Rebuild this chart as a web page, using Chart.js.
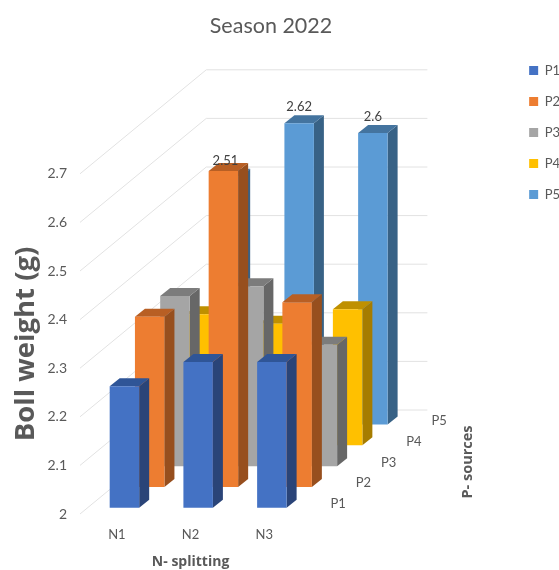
<!DOCTYPE html>
<html>
<head>
<meta charset="utf-8">
<title>Season 2022</title>
<script src="https://cdn.jsdelivr.net/npm/chart.js@4"></script>
<style>
    html, body { margin: 0; background: #fff; }
    canvas { display: block; }
</style>
</head>
<body>
<canvas id="myChart" width="559" height="570"></canvas>
<script>
const categories = ['N1', 'N2', 'N3'];
const seriesNames = ['P1', 'P2', 'P3', 'P4', 'P5'];

const p1Values = [2.25, 2.30, 2.30];
const p2Values = [2.35, 2.65, 2.38];
const p3Values = [2.35, 2.37, 2.25];
const p4Values = [2.27, 2.25, 2.28];
const p5Values = [2.51, 2.62, 2.6];

const frontColors = ['#4472c4', '#ed7d31', '#a5a5a5', '#ffc000', '#5b9bd5'];
const topColors = ['#2f5597', '#b85f24', '#7c7c7c', '#bf9000', '#44749f'];
const sideColors = ['#2a4478', '#974f1e', '#676767', '#a67c00', '#386286'];

const axisMin = 2;
const axisMax = 2.7;

const textColor = '#595959';
const fontFamily = 'Lato, "Open Sans", sans-serif';
const boldFamily = '"Open Sans", Lato, sans-serif';

// fake 3D: every series sits one slot further back
const slotX = 25.25;
const slotY = -20.8;
const barDepthX = 10;
const barDepthY = -8;

function seriesOffset(index) {
    return {
        x: (index + 0.3) * slotX,
        y: (index + 0.3) * slotY
    };
}

const depth3d = {
    id: 'depth3d',

    afterLayout(chart) {
        // title and legend do not follow the plot area in this layout
        chart.titleBlock.right -= 27;
        chart.legend.top += 46;
        chart.legend.left += 11;
    },

    // walls: slanted side gridline, then straight along the back
    beforeDatasetsDraw(chart) {
        const ctx = chart.ctx;
        const x = chart.scales.x;
        const y = chart.scales.y;
        const backX = seriesNames.length * slotX;
        const backY = seriesNames.length * slotY;

        ctx.save();
        ctx.strokeStyle = '#e2e2e2';
        ctx.lineWidth = 1;
        y.ticks.forEach((tick, i) => {
            const py = y.getPixelForTick(i);
            ctx.beginPath();
            ctx.moveTo(x.left, py);
            ctx.lineTo(x.left + backX, py + backY);
            ctx.lineTo(x.right + backX, py + backY);
            ctx.stroke();
        });
        ctx.restore();
    },

    // the translate stays on until afterDatasetDraw so the bar itself moves too
    beforeDatasetDraw(chart, args) {
        const ctx = chart.ctx;
        const offset = seriesOffset(args.index);

        ctx.save();
        ctx.translate(offset.x, offset.y);

        args.meta.data.forEach(bar => {
            const left = bar.x - bar.width / 2;
            const right = bar.x + bar.width / 2;

            ctx.fillStyle = sideColors[args.index];
            ctx.beginPath();
            ctx.moveTo(right, bar.y);
            ctx.lineTo(right + barDepthX, bar.y + barDepthY);
            ctx.lineTo(right + barDepthX, bar.base + barDepthY);
            ctx.lineTo(right, bar.base);
            ctx.closePath();
            ctx.fill();

            ctx.fillStyle = topColors[args.index];
            ctx.beginPath();
            ctx.moveTo(left, bar.y);
            ctx.lineTo(right, bar.y);
            ctx.lineTo(right + barDepthX, bar.y + barDepthY);
            ctx.lineTo(left + barDepthX, bar.y + barDepthY);
            ctx.closePath();
            ctx.fill();
        });
    },

    afterDatasetDraw(chart) {
        chart.ctx.restore();
    },

    afterDatasetsDraw(chart) {
        const ctx = chart.ctx;
        const x = chart.scales.x;
        const y = chart.scales.y;

        ctx.save();
        ctx.fillStyle = textColor;
        ctx.textAlign = 'center';
        ctx.textBaseline = 'middle';

        // depth axis labels along the floor
        ctx.font = '13px ' + fontFamily;
        seriesNames.forEach((name, i) => {
            ctx.fillText(name, x.right + 37 + i * slotX, y.bottom - 10 + i * slotY);
        });

        // value labels for the back row
        ctx.fillStyle = '#404040';
        chart.data.datasets.forEach((dataset, i) => {
            if (!dataset.showValues) return;
            const offset = seriesOffset(i);
            chart.getDatasetMeta(i).data.forEach((bar, j) => {
                ctx.fillText(String(dataset.data[j]), bar.x + offset.x, bar.y + offset.y - 16);
            });
        });

        // depth axis title
        ctx.fillStyle = textColor;
        ctx.font = 'bold 14.5px ' + boldFamily;
        ctx.translate(468, 462);
        ctx.rotate(-Math.PI / 2);
        ctx.fillText('P- sources', 0, 0);
        ctx.restore();
    }
};

const allValues = [p1Values, p2Values, p3Values, p4Values, p5Values];

new Chart(document.getElementById('myChart').getContext('2d'), {
    type: 'bar',
    data: {
        labels: categories,
        datasets: seriesNames.map((name, i) => ({
            label: name,
            data: allValues[i],
            base: axisMin,
            backgroundColor: frontColors[i],
            showValues: name === 'P5',
            clip: false
        }))
    },
    plugins: [depth3d],
    options: {
        responsive: false,
        animation: false,
        grouped: false,
        categoryPercentage: 1,
        barPercentage: 0.4,
        layout: { padding: { left: 10, right: 0, top: 0, bottom: 0 } },
        scales: {
            x: {
                grid: { display: false },
                border: { display: false },
                ticks: { color: textColor, padding: 5, font: { family: fontFamily, size: 13 }, maxRotation: 0 },
                title: {
                    display: true,
                    text: 'N- splitting',
                    color: textColor,
                    padding: { top: 6, bottom: 0 },
                    font: { family: boldFamily, size: 14, weight: 'bold' }
                },
                afterFit: scale => { scale.height = 56; }
            },
            y: {
                min: axisMin,
                max: axisMax,
                grid: { display: false },
                border: { display: false },
                ticks: {
                    stepSize: 0.1,
                    color: textColor,
                    padding: 5,
                    font: { family: fontFamily, size: 14 },
                    callback: value => String(+value.toFixed(1))
                },
                title: {
                    display: true,
                    text: 'Boll weight (g)',
                    color: textColor,
                    padding: 0,
                    font: { family: boldFamily, size: 27.5, weight: 'bold' }
                },
                afterFit: scale => { scale.width = 70; }
            },
            // empty scale that keeps the room for the depth of the chart
            room: {
                type: 'linear',
                axis: 'y',
                position: 'right',
                grid: { display: false },
                border: { display: false },
                ticks: { display: false },
                afterFit: scale => { scale.width = 199; }
            }
        },
        plugins: {
            title: {
                display: true,
                text: 'Season 2022',
                color: textColor,
                padding: { top: 13, bottom: 135 },
                font: { family: fontFamily, size: 21.5, weight: 'normal' }
            },
            legend: {
                position: 'right',
                align: 'start',
                labels: {
                    color: textColor,
                    boxWidth: 9,
                    boxHeight: 9,
                    padding: 18,
                    font: { family: fontFamily, size: 13 }
                }
            },
            tooltip: { enabled: false }
        }
    }
});
</script>
</body>
</html>
